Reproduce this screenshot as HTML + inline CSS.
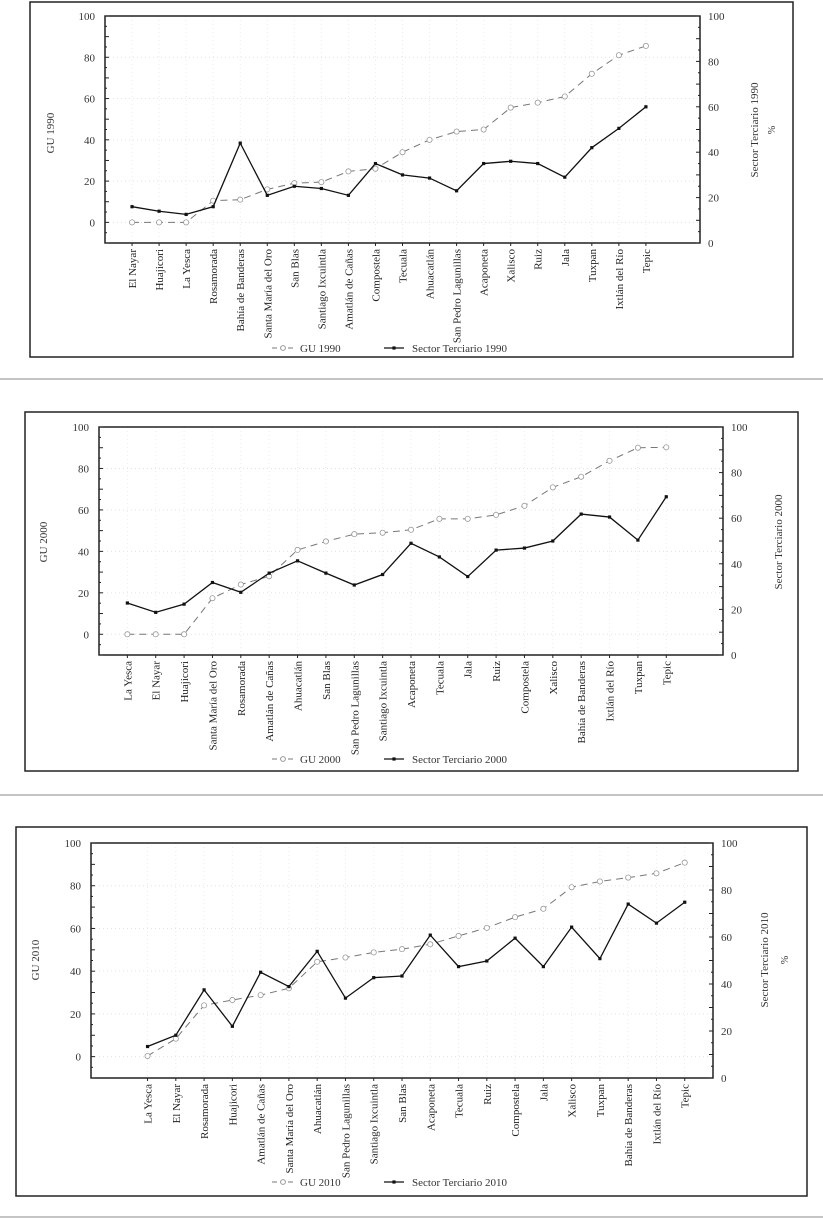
<!DOCTYPE html>
<html><head><meta charset="utf-8"><style>
html,body{margin:0;padding:0;background:#fff;}
svg{display:block;font-family:"Liberation Serif",serif;}
</style></head><body>
<svg id="fig" width="823" height="1219" viewBox="0 0 823 1219" xmlns="http://www.w3.org/2000/svg">
<line x1="0" y1="379" x2="823" y2="379" stroke="#888" stroke-width="1"/>
<line x1="0" y1="795" x2="823" y2="795" stroke="#888" stroke-width="1"/>
<line x1="0" y1="1217" x2="823" y2="1217" stroke="#888" stroke-width="1"/>
</svg>
<script>
const cats1990 = ["El Nayar","Huajicori","La Yesca","Rosamorada","Bahía de Banderas","Santa María del Oro","San Blas","Santiago Ixcuintla","Amatlán de Cañas","Compostela","Tecuala","Ahuacatlán","San Pedro Lagunillas","Acaponeta","Xalisco","Ruiz","Jala","Tuxpan","Ixtlán del Río","Tepic"];
const gu1990 = [0,0,0,10.5,11,16,19,19.5,24.7,26,34,40,44,45,55.6,58,61,72,81,85.5];
const st1990 = [16,14,12.6,16,44,21,25,24,21,35,30,28.6,23,35,36,35,29,42,50.5,60];

const cats2000 = ["La Yesca","El Nayar","Huajicori","Santa María del Oro","Rosamorada","Amatlán de Cañas","Ahuacatlán","San Blas","San Pedro Lagunillas","Santiago Ixcuintla","Acaponeta","Tecuala","Jala","Ruiz","Compostela","Xalisco","Bahía de Banderas","Ixtlán del Río","Tuxpan","Tepic"];
const gu2000 = [0,0,0,17.4,24,28,40.7,44.8,48.3,49,50.4,55.7,55.7,57.6,62,70.9,76,83.7,90,90.2];
const st2000 = [22.8,18.7,22.3,31.8,27.5,35.9,41.3,35.9,30.7,35.3,49,43,34.4,46,46.9,50,61.8,60.5,50.4,69.4];

const cats2010 = ["La Yesca","El Nayar","Rosamorada","Huajicori","Amatlán de Cañas","Santa María del Oro","Ahuacatlán","San Pedro Lagunillas","Santiago Ixcuintla","San Blas","Acaponeta","Tecuala","Ruiz","Compostela","Jala","Xalisco","Tuxpan","Bahía de Banderas","Ixtlán del Río","Tepic"];
const gu2010 = [0.3,8.4,24,26.5,28.8,32,44.4,46.4,48.8,50.3,52.6,56.5,60.3,65.3,69.2,79.3,82,83.8,85.8,90.8];
const st2010 = [13.4,18.2,37.5,22,45,38.9,53.9,34,42.7,43.4,60.8,47.4,49.8,59.5,47.4,64.2,50.8,74,65.9,74.8];

const leftTicks = [0,20,40,60,80,100];
const rightTicks = [0,20,40,60,80,100];

const NS = "http://www.w3.org/2000/svg";
const svg = document.getElementById("fig");
function mk(tag, attrs, parent){const e=document.createElementNS(NS,tag);for(const k in attrs)e.setAttribute(k,attrs[k]);(parent||svg).appendChild(e);return e;}

function chart(cfg){
  const g = mk("g",{});
  
  
  const box = mk("rect",{x:cfg.box[0],y:cfg.box[1],width:cfg.box[2]-cfg.box[0],height:cfg.box[3]-cfg.box[1],fill:"none",stroke:"#222","stroke-width":1.5},g);
  
  
  const L=cfg.plot[0],T=cfg.plot[1],R=cfg.plot[2],B=cfg.plot[3];
  const yL = v => B - (v+10)/110*(B-T);
  const yR = v => B - v/100*(B-T);
  const slot=(R-L)/cfg.slots;
  const xC = i => L + (i+cfg.first)*slot;
  leftTicks.forEach(t=>{
    const gl=mk("line",{x1:L,x2:R,y1:yL(t),y2:yL(t),stroke:"#e2e2e2","stroke-dasharray":"1,3"},g);
    
    
  });
  cfg.cats.forEach((c,i)=>{
    const gl=mk("line",{x1:xC(i),x2:xC(i),y1:T,y2:B,stroke:"#ebebeb","stroke-dasharray":"1,3"},g);
    
    
  });
  const pa=mk("rect",{x:L,y:T,width:R-L,height:B-T,fill:"none",stroke:"#111","stroke-width":1.4},g);
  
  
  for(let v=-10;v<=100;v+=5){const tk=mk("line",{x1:L,x2:L+(v%10===0?4:2),y1:yL(v),y2:yL(v),stroke:"#222"},g);}
  for(let v=0;v<=100;v+=5){const tk=mk("line",{x1:R,x2:R-(v%10===0?4:2),y1:yR(v),y2:yR(v),stroke:"#222"},g);}
  leftTicks.forEach(t=>{
    const tx=mk("text",{x:L-10,y:yL(t)+4,"text-anchor":"end","font-size":11,fill:"#333"},g);
    tx.textContent=t;
    
    
  });
  rightTicks.forEach(t=>{
    const tx=mk("text",{x:R+8,y:yR(t)+4,"font-size":11,fill:"#333"},g);
    tx.textContent=t;
    
    
  });
  cfg.cats.forEach((c,i)=>{
    const x=xC(i), y=B+6;
    const tk=mk("line",{x1:x,x2:x,y1:B,y2:B+3,stroke:"#222"},g);
    
    
    const tx=mk("text",{x:x+4,y:y,"text-anchor":"end","font-size":11,fill:"#222",transform:`rotate(-90 ${x+4} ${y})`},g);
    tx.textContent=c;
    
    
  });
  const lt=mk("text",{x:cfg.lt[0],y:cfg.lt[1],"text-anchor":"middle","font-size":11,fill:"#333",transform:`rotate(-90 ${cfg.lt[0]} ${cfg.lt[1]})`},g);
  lt.textContent=cfg.ltitle;
  
  
  const rt=mk("text",{x:cfg.rt[0],y:cfg.rt[1],"text-anchor":"middle","font-size":11,fill:"#333",transform:`rotate(-90 ${cfg.rt[0]} ${cfg.rt[1]})`},g);
  rt.textContent=cfg.rtitle;
  
  
  if(cfg.pct){
    const p=mk("text",{x:cfg.pct[0],y:cfg.pct[1],"text-anchor":"middle","font-size":10,fill:"#333",transform:`rotate(-90 ${cfg.pct[0]} ${cfg.pct[1]})`},g);
    p.textContent="%";
    
    
  }
  const guPts=cfg.gu.map((v,i)=>xC(i)+","+yL(v)).join(" ");
  const gl=mk("polyline",{points:guPts,fill:"none",stroke:"#777","stroke-width":1,"stroke-dasharray":"7,5"},g);
  
  
  cfg.gu.forEach((v,i)=>{
    const c=mk("circle",{cx:xC(i),cy:yL(v),r:2.6,fill:"#fff",stroke:"#999","stroke-width":0.8},g);
    
    
  });
  const stPts=cfg.st.map((v,i)=>xC(i)+","+yR(v)).join(" ");
  const sl=mk("polyline",{points:stPts,fill:"none",stroke:"#111","stroke-width":1.3},g);
  
  
  cfg.st.forEach((v,i)=>{
    const r=mk("rect",{x:xC(i)-1.6,y:yR(v)-1.6,width:3.2,height:3.2,fill:"#111"},g);
    
    
  });
  const lx=cfg.leg[0], ly=cfg.leg[1];
  const lg=mk("g",{},g);
  
  
  mk("line",{x1:lx-140,x2:lx-118,y1:ly,y2:ly,stroke:"#777","stroke-dasharray":"5,3"},lg);
  mk("circle",{cx:lx-129,cy:ly,r:2.4,fill:"#fff",stroke:"#999"},lg);
  const t1=mk("text",{x:lx-112,y:ly+4,"font-size":11,fill:"#333"},lg);
  t1.textContent=cfg.l1;
  
  
  mk("line",{x1:lx-28,x2:lx-8,y1:ly,y2:ly,stroke:"#111","stroke-width":1.3},lg);
  mk("rect",{x:lx-19.6,y:ly-1.6,width:3.2,height:3.2,fill:"#111"},lg);
  const t2=mk("text",{x:lx,y:ly+4,"font-size":11,fill:"#333"},lg);
  t2.textContent=cfg.l2;
  
  
}

chart({name:"chart-1990",box:[30,2,793,357],plot:[105,16,700,243],slots:22,first:1,cats:cats1990,gu:gu1990,st:st1990,
  ltitle:"GU 1990",lt:[54,133],rtitle:"Sector Terciario 1990",rt:[758,130],pct:[775,130],leg:[412,348],l1:"GU 1990",l2:"Sector Terciario 1990"});
chart({name:"chart-2000",box:[25,412,798,771],plot:[99,427,723,655],slots:22,first:1,cats:cats2000,gu:gu2000,st:st2000,
  ltitle:"GU 2000",lt:[47,542],rtitle:"Sector Terciario 2000",rt:[782,542],pct:null,leg:[412,759],l1:"GU 2000",l2:"Sector Terciario 2000"});
chart({name:"chart-2010",box:[16,827,807,1196],plot:[91,843,713,1078],slots:22,first:2,cats:cats2010,gu:gu2010,st:st2010,
  ltitle:"GU 2010",lt:[39,960],rtitle:"Sector Terciario 2010",rt:[768,960],pct:[788,960],leg:[412,1182],l1:"GU 2010",l2:"Sector Terciario 2010"});
</script>
</body></html>
